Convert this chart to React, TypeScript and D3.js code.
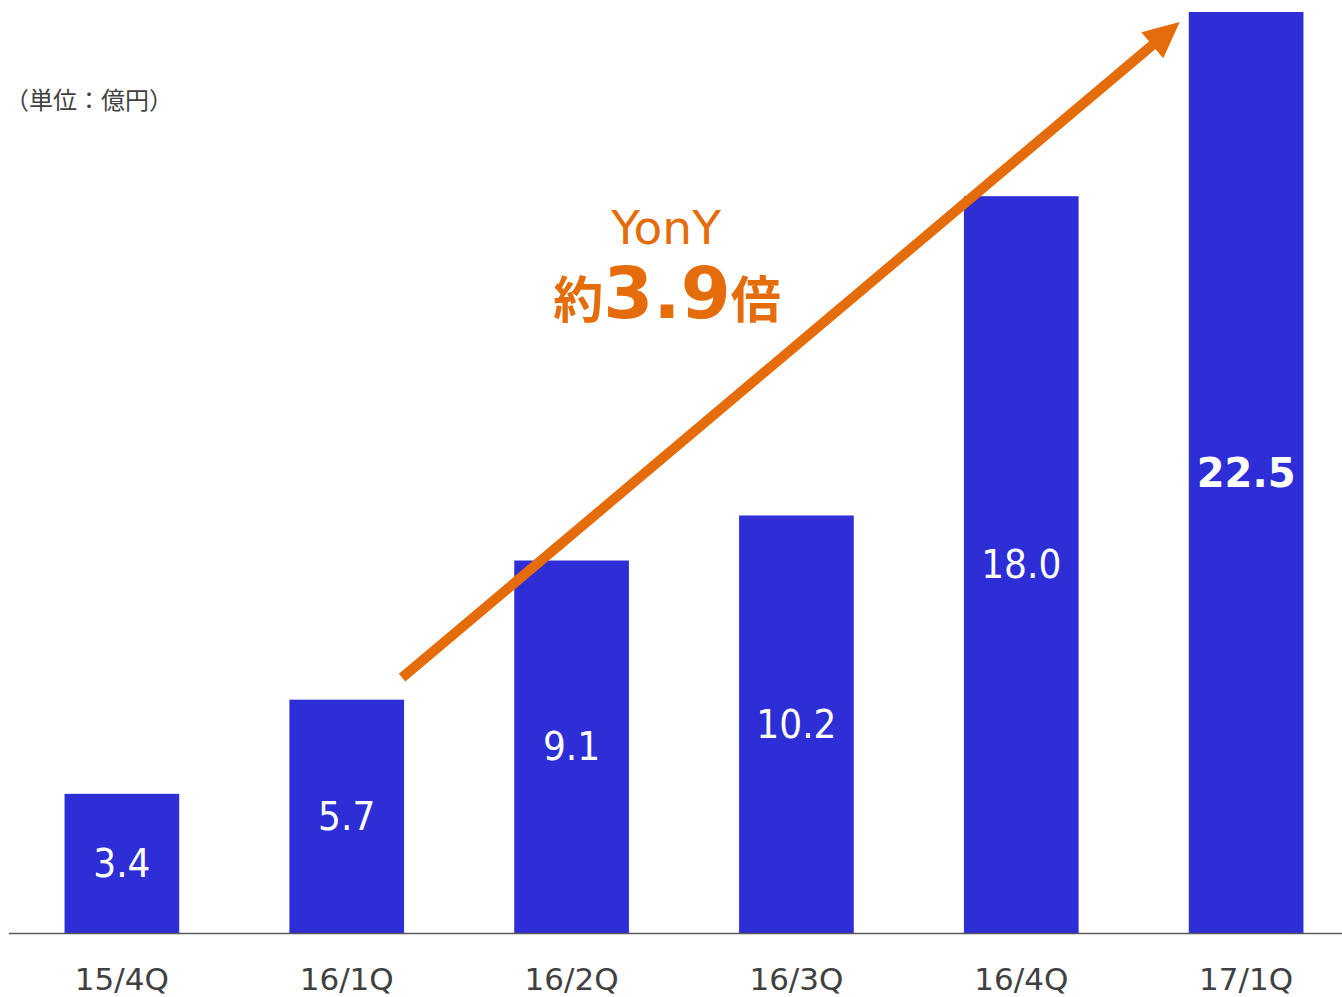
import { useEffect, useRef } from "react"
import * as d3 from "d3"

// data
const quarters = ["15/4Q", "16/1Q", "16/2Q", "16/3Q", "16/4Q", "17/1Q"]
const sales = [3.4, 5.7, 9.1, 10.2, 18.0, 22.5]
const unitLabel = "（単位：億円）"
const growthTitle = "YonY"
const growthValue = "3.9"

const BAR = "#2E2ED6"
const ORANGE = "#E46C0A"
const GREY = "#404040"

export default function App() {
  const svgRef = useRef<SVGSVGElement>(null)

  useEffect(() => {
    if (!svgRef.current) return
    const W = 1342
    const H = 997
    const baseY = 933

    const svg = d3.select(svgRef.current).attr("width", W).attr("height", H)
    svg.selectAll("*").remove()

    const x = d3
      .scaleBand()
      .domain(quarters)
      .range([9, 1359])
      .paddingInner(0.49)
      .paddingOuter(0.247)

    const y = d3.scaleLinear().domain([0, 22.5]).range([baseY, 12])

    // bars
    svg
      .selectAll("rect.bar")
      .data(sales)
      .join("rect")
      .attr("class", "bar")
      .attr("x", (_, i) => x(quarters[i]) || 0)
      .attr("y", (d) => y(d))
      .attr("width", x.bandwidth())
      .attr("height", (d) => baseY - y(d))
      .attr("fill", BAR)

    // value labels, centred in the bars
    svg
      .selectAll("text.val")
      .data(sales)
      .join("text")
      .attr("class", "val")
      .attr(
        "transform",
        (d, i) =>
          `translate(${(x(quarters[i]) || 0) + x.bandwidth() / 2},${(y(d) + baseY) / 2}) scale(1,${i === 5 ? 1 : 1.1})`
      )
      .attr("text-anchor", "middle")
      .attr("dominant-baseline", "central")
      .attr("fill", "#fff")
      .attr("font-family", "'DejaVu Sans', Verdana, sans-serif")
      .attr("font-size", (_, i) => (i === 5 ? 40 : 36))
      .attr("font-weight", (_, i) => (i === 5 ? "bold" : "normal"))
      .text((d) => d.toFixed(1))

    // baseline
    svg
      .append("line")
      .attr("x1", 9)
      .attr("x2", W)
      .attr("y1", baseY + 0.5)
      .attr("y2", baseY + 0.5)
      .attr("stroke", "#595959")
      .attr("stroke-width", 1.5)

    // category labels
    svg
      .selectAll("text.cat")
      .data(quarters)
      .join("text")
      .attr("class", "cat")
      .attr("x", (d) => (x(d) || 0) + x.bandwidth() / 2)
      .attr("y", 990)
      .attr("text-anchor", "middle")
      .attr("fill", GREY)
      .attr("font-family", "'DejaVu Sans', Verdana, sans-serif")
      .attr("font-size", 31)
      .text((d) => d)

    // unit
    svg
      .append("text")
      .attr("x", 5)
      .attr("y", 109)
      .attr("fill", GREY)
      .attr("font-family", "'Noto Sans CJK JP', sans-serif")
      .attr("font-size", 24)
      .text(unitLabel)

    // growth arrow
    const x0 = (x(quarters[1]) || 0) + x.bandwidth() - 2
    const y0 = y(sales[1]) - 22
    const x1 = (x(quarters[5]) || 0) - 9
    const y1 = y(sales[5]) + 10
    const ang = Math.atan2(y1 - y0, x1 - x0)
    const headLen = 36
    const headHalf = 17
    const bx = x1 - headLen * Math.cos(ang)
    const by = y1 - headLen * Math.sin(ang)
    svg
      .append("line")
      .attr("x1", x0)
      .attr("y1", y0)
      .attr("x2", bx + 4 * Math.cos(ang))
      .attr("y2", by + 4 * Math.sin(ang))
      .attr("stroke", ORANGE)
      .attr("stroke-width", 10)
    const nx = -Math.sin(ang)
    const ny = Math.cos(ang)
    svg
      .append("path")
      .attr(
        "d",
        `M${x1},${y1}L${bx + nx * headHalf},${by + ny * headHalf}L${bx - nx * headHalf},${by - ny * headHalf}Z`
      )
      .attr("fill", ORANGE)

    // annotation
    svg
      .append("text")
      .attr("x", 666)
      .attr("y", 244)
      .attr("text-anchor", "middle")
      .attr("fill", ORANGE)
      .attr("font-family", "'DejaVu Sans', Verdana, sans-serif")
      .attr("font-size", 47)
      .text(growthTitle)

    const big = svg
      .append("text")
      .attr("x", 667)
      .attr("y", 318)
      .attr("text-anchor", "middle")
      .attr("fill", ORANGE)
      .attr("font-weight", "bold")
    big
      .append("tspan")
      .attr("font-family", "'Noto Sans CJK JP', sans-serif")
      .attr("font-size", 50)
      .text("約")
    big
      .append("tspan")
      .attr("font-family", "'DejaVu Sans', Verdana, sans-serif")
      .attr("font-size", 72)
      .text(growthValue)
    big
      .append("tspan")
      .attr("font-family", "'Noto Sans CJK JP', sans-serif")
      .attr("font-size", 50)
      .text("倍")
  }, [])

  return (
    <div style={{ position: "absolute", left: 0, top: 0, background: "#fff" }}>
      <svg ref={svgRef} style={{ display: "block" }}></svg>
    </div>
  )
}
